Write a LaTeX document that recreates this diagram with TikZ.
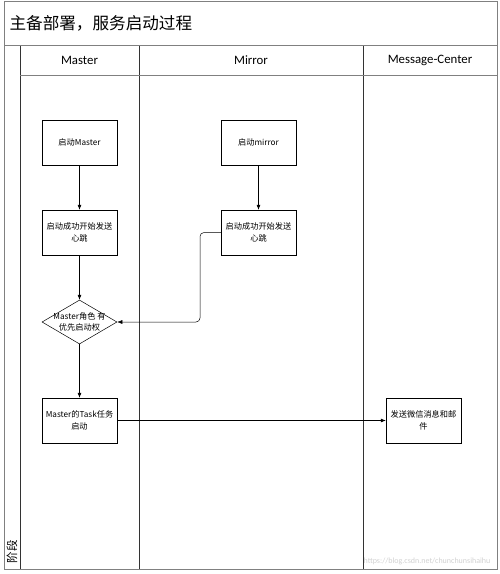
\documentclass[tikz,border=0pt]{standalone}
\usepackage{fontspec}
\setmainfont{Carlito}
\newfontfamily\cjk{Noto Sans CJK SC}
\usetikzlibrary{shapes.geometric,arrows.meta}

\begin{document}
\begin{tikzpicture}[x=1pt, y=-1pt, >={Latex[length=5pt,width=4pt]},
  line width=0.5pt,
  box/.style={draw, fill=white, minimum width=75pt, minimum height=45pt,
    inner sep=1pt, align=center, font=\cjk\fontsize{8.2}{11.5}\selectfont},
  choice/.style={draw, fill=white, diamond, inner sep=0pt,
    minimum width=75pt, minimum height=44pt},
  lanename/.style={font=\fontsize{12.8}{14}\selectfont}]
  \def\Xl{4};   % frame left
  \def\Xp{20};  % phase column
  \def\Xa{139}; % master | mirror
  \def\Xb{363}; % mirror | message center
  \def\Xr{497}; % frame right
  \def\Yt{1};
  \def\Yh{45};  % title band
  \def\Yl{75};  % lane headers
  \def\Yb{569};
  \useasboundingbox (0,0) rectangle (499,574);

        % lanes
        \draw[black!80] (\Xp, \Yh) -- (\Xp, \Yb);
        \draw[black!80] (\Xa, \Yh) -- (\Xa, \Yb);
        \draw[black!80] (\Xb, \Yh) -- (\Xb, \Yb);
        \draw[gray, line width=0.8pt] (\Xp, \Yl) -- (\Xr, \Yl);
        % frame
        \draw[gray, line width=1pt] (\Xl, \Yt) rectangle (\Xr, \Yb);
        \draw[gray, line width=1pt] (\Xl, \Yh) -- (\Xr, \Yh);

        % title and headers
        \node[anchor=west, font=\cjk\fontsize{16.6}{18}\selectfont] (title) at (\Xl + 2, 23) {主备部署，服务启动过程};
        \node[lanename] (master) at ({(\Xp + \Xa)/2}, 60) {Master};
        \node[lanename] (mirror) at ({(\Xa + \Xb)/2}, 60) {Mirror};
        \node[lanename] (center) at ({(\Xb + \Xr)/2}, 60) {Message-Center};
        \node[rotate=90, anchor=west, font=\cjk\fontsize{11.5}{13}\selectfont] (phase) at (12, 567) {阶段};

        % steps
        \node[box] (startM) at (79.5, 142.5) {启动Master};
        \node[box] (startR) at (258.5, 142.5) {启动mirror};
        \node[box] (beatM) at (79.5, 232.5) {启动成功开始发送\\心跳};
        \node[box] (beatR) at (258.5, 232.5) {启动成功开始发送\\心跳};
        \node[choice] (prio) at (79.5, 322) {};
        \node[align=center, font=\cjk\fontsize{8.2}{11.5}\selectfont] (prioText) at (prio) {Master角色 有\\优先启动权};
        \node[box] (task) at (79.5, 420.5) {Master的Task任务\\启动};
        \node[box] (notify) at (423.5, 420.5) {发送微信消息和邮\\件};

	% flow
	\draw[->] (startM) -- (beatM);
	\draw[->] (startR) -- (beatR);
	\draw[->] (beatM) -- (prio);
	\draw[->] (prio) -- (task);
	\coordinate (turn) at (200, 280);
	\draw[->, rounded corners=4pt] (beatR.west) -| (turn) |- (prio.east);
	\draw[->] (task) -- (notify);

        % watermark
        \node[anchor=east, text=black!18, font=\fontsize{8}{9}\selectfont] (mark) at (494, 561) {https://blog.csdn.net/chunchunsihaihu};
\end{tikzpicture}
\end{document}
